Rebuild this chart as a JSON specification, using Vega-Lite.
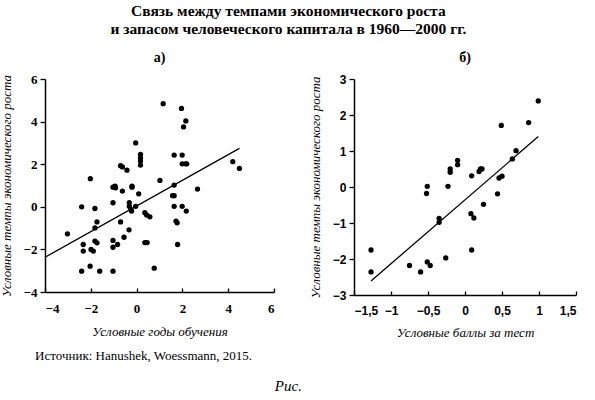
{
  "$schema": "https://vega.github.io/schema/vega-lite/v6.json",
  "background": "white",
  "padding": {"left": 0, "top": 3, "right": 5, "bottom": 5},
  "title": {
    "text": ["Связь между темпами экономического роста", "и запасом человеческого капитала в 1960—2000 гг."],
    "font": "Liberation Serif",
    "fontSize": 15.5,
    "fontWeight": "bold",
    "lineHeight": 18,
    "anchor": "middle",
    "offset": 14,
    "color": "black"
  },
  "datasets": {
    "a": [
      {"x": -3.02, "y": -1.27}, {"x": -2.4, "y": 0.0}, {"x": -2.02, "y": 1.32}, {"x": -2.33, "y": -1.77},
      {"x": -2.33, "y": -2.08}, {"x": -2.4, "y": -3.02}, {"x": -2.03, "y": -2.79}, {"x": -1.99, "y": -2.0},
      {"x": -1.89, "y": -2.08}, {"x": -1.82, "y": -0.08}, {"x": -1.82, "y": -0.99}, {"x": -1.82, "y": -1.61},
      {"x": -1.73, "y": -1.69}, {"x": -1.73, "y": -0.71}, {"x": -1.61, "y": -3.02}, {"x": -1.03, "y": -3.02},
      {"x": -1.03, "y": 0.19}, {"x": -1.03, "y": -1.58}, {"x": -1.03, "y": -1.9}, {"x": -1.03, "y": 0.92},
      {"x": -0.94, "y": 0.97}, {"x": -0.92, "y": 0.89}, {"x": -0.83, "y": -1.77}, {"x": -0.7, "y": 1.93},
      {"x": -0.62, "y": 1.87}, {"x": -0.62, "y": 0.74}, {"x": -0.7, "y": -0.71}, {"x": -0.55, "y": -1.43},
      {"x": -0.42, "y": 1.72}, {"x": -0.33, "y": -1.08}, {"x": -0.32, "y": 0.19}, {"x": -0.32, "y": 0.02},
      {"x": -0.25, "y": -0.13}, {"x": -0.22, "y": -0.2}, {"x": -0.2, "y": 0.97}, {"x": -0.2, "y": 0.92},
      {"x": -0.04, "y": 0.02}, {"x": -0.04, "y": 3.0}, {"x": 0.09, "y": 0.61}, {"x": 0.17, "y": 2.46},
      {"x": 0.17, "y": 2.3}, {"x": 0.17, "y": 2.15}, {"x": 0.17, "y": 1.96}, {"x": 0.36, "y": -0.28},
      {"x": 0.44, "y": -0.39}, {"x": 0.36, "y": -1.68}, {"x": 0.46, "y": -1.68}, {"x": 0.58, "y": -0.47},
      {"x": 0.77, "y": -2.88}, {"x": 1.02, "y": 1.24}, {"x": 1.16, "y": 4.84}, {"x": 1.64, "y": 2.43},
      {"x": 1.64, "y": 1.02}, {"x": 1.57, "y": 0.52}, {"x": 1.64, "y": 0.52}, {"x": 1.64, "y": 0.02},
      {"x": 1.72, "y": -0.67}, {"x": 1.77, "y": -0.75}, {"x": 1.79, "y": -1.77}, {"x": 1.96, "y": 4.62},
      {"x": 1.99, "y": 2.43}, {"x": 1.99, "y": 2.02}, {"x": 1.99, "y": 0.02}, {"x": 2.05, "y": 3.75},
      {"x": 2.15, "y": 4.03}, {"x": 2.14, "y": 2.02}, {"x": 2.19, "y": 2.02}, {"x": 2.17, "y": -0.2},
      {"x": 2.66, "y": 0.83}, {"x": 4.2, "y": 2.12}, {"x": 4.49, "y": 1.8}
    ],
    "a_fit": [{"x": -4, "y": -2.37}, {"x": 4.49, "y": 2.74}],
    "b": [
      {"x": -1.27, "y": -1.75}, {"x": -1.27, "y": -2.36}, {"x": -0.75, "y": -2.18}, {"x": -0.6, "y": -2.36},
      {"x": -0.51, "y": -2.08}, {"x": -0.47, "y": -2.18}, {"x": -0.52, "y": -0.18}, {"x": -0.51, "y": 0.02},
      {"x": -0.35, "y": -0.87}, {"x": -0.35, "y": -0.98}, {"x": -0.26, "y": -1.97}, {"x": -0.23, "y": 0.02},
      {"x": -0.2, "y": 0.5}, {"x": -0.2, "y": 0.41}, {"x": -0.1, "y": 0.74}, {"x": -0.1, "y": 0.62},
      {"x": 0.09, "y": 0.31}, {"x": 0.08, "y": -0.74}, {"x": 0.12, "y": -0.86}, {"x": 0.09, "y": -1.75},
      {"x": 0.19, "y": 0.43}, {"x": 0.21, "y": 0.5}, {"x": 0.23, "y": 0.5}, {"x": 0.25, "y": -0.48},
      {"x": 0.44, "y": -0.19}, {"x": 0.46, "y": 0.25}, {"x": 0.5, "y": 0.3}, {"x": 0.49, "y": 1.71},
      {"x": 0.64, "y": 0.78}, {"x": 0.69, "y": 1.01}, {"x": 0.86, "y": 1.79}, {"x": 0.99, "y": 2.39}
    ],
    "b_fit": [{"x": -1.27, "y": -2.61}, {"x": 0.99, "y": 1.4}]
  },
  "config": {
    "view": {"stroke": null},
    "axis": {
      "grid": false,
      "domainColor": "black",
      "domainWidth": 1.5,
      "tickColor": "black",
      "tickWidth": 1.3,
      "labelColor": "black",
      "labelFontWeight": "bold",
      "labelFontSize": 13,
      "labelOverlap": false,
      "labelBound": false,
      "titleColor": "black",
      "titleFont": "Liberation Serif",
      "titleFontStyle": "italic",
      "titleFontWeight": "normal",
      "titleFontSize": 13
    },
    "axisX": {"tickSize": -4, "labelPadding": 14, "titlePadding": 10},
    "axisY": {"tickSize": 5, "labelPadding": 3, "titlePadding": 10},
    "title": {"color": "black"}
  },
  "vconcat": [
    {
      "title": {"text": "Рис.", "orient": "bottom", "anchor": "middle", "font": "Liberation Serif", "fontStyle": "italic", "fontWeight": "normal", "fontSize": 15, "offset": 16},
      "vconcat": [
        {
          "title": {"text": "Источник: Hanushek, Woessmann, 2015.", "orient": "bottom", "anchor": "start", "dx": 35, "font": "Liberation Serif", "fontWeight": "normal", "fontSize": 13, "offset": 11},
          "spacing": 34,
          "hconcat": [
            {
              "width": 229,
              "height": 213,
              "title": {"text": "а)", "font": "Liberation Serif", "fontSize": 14, "fontWeight": "bold", "offset": 8},
              "layer": [
                {
                  "data": {"name": "a"},
                  "mark": {"type": "circle", "size": 28, "color": "black", "opacity": 1},
                  "encoding": {
                    "x": {"field": "x", "type": "quantitative", "scale": {"domain": [-4, 6], "nice": false},
                      "axis": {"values": [-4, -2, 0, 2, 4, 6], "labelOverlap": false, "title": "Условные годы обучения", "labelFont": "Liberation Serif"}},
                    "y": {"field": "y", "type": "quantitative", "scale": {"domain": [-4, 6], "nice": false},
                      "axis": {"values": [-4, -2, 0, 2, 4, 6], "labelOverlap": false, "title": "Условные темпы экономического роста", "labelFont": "Liberation Serif"}}
                  }
                },
                {
                  "data": {"name": "a_fit"},
                  "mark": {"type": "line", "color": "black", "strokeWidth": 1.3},
                  "encoding": {
                    "x": {"field": "x", "type": "quantitative"},
                    "y": {"field": "y", "type": "quantitative"}
                  }
                }
              ]
            },
            {
              "width": 222,
              "height": 216,
              "title": {"text": "б)", "font": "Liberation Serif", "fontSize": 14, "fontWeight": "bold", "offset": 8},
              "layer": [
                {
                  "data": {"name": "b"},
                  "mark": {"type": "circle", "size": 28, "color": "black", "opacity": 1},
                  "encoding": {
                    "x": {"field": "x", "type": "quantitative", "scale": {"domain": [-1.5, 1.5], "nice": false},
                      "axis": {"values": [-1.5, -1, -0.5, 0, 0.5, 1, 1.5], "labelOverlap": false, "tickCount": 7, "title": "Условные баллы за тест", "labelFont": "Liberation Sans", "labelFontSize": 12,
                        "labelExpr": "replace(format(datum.value, '.1~f'), '.', ',')"}},
                    "y": {"field": "y", "type": "quantitative", "scale": {"domain": [-3, 3], "nice": false},
                      "axis": {"values": [-3, -2, -1, 0, 1, 2, 3], "labelOverlap": false, "tickCount": 7, "title": "Условные темпы экономического роста", "labelFont": "Liberation Sans", "labelFontSize": 12}}
                  }
                },
                {
                  "data": {"name": "b_fit"},
                  "mark": {"type": "line", "color": "black", "strokeWidth": 1.3},
                  "encoding": {
                    "x": {"field": "x", "type": "quantitative"},
                    "y": {"field": "y", "type": "quantitative"}
                  }
                }
              ]
            }
          ]
        }
      ]
    }
  ]
}
